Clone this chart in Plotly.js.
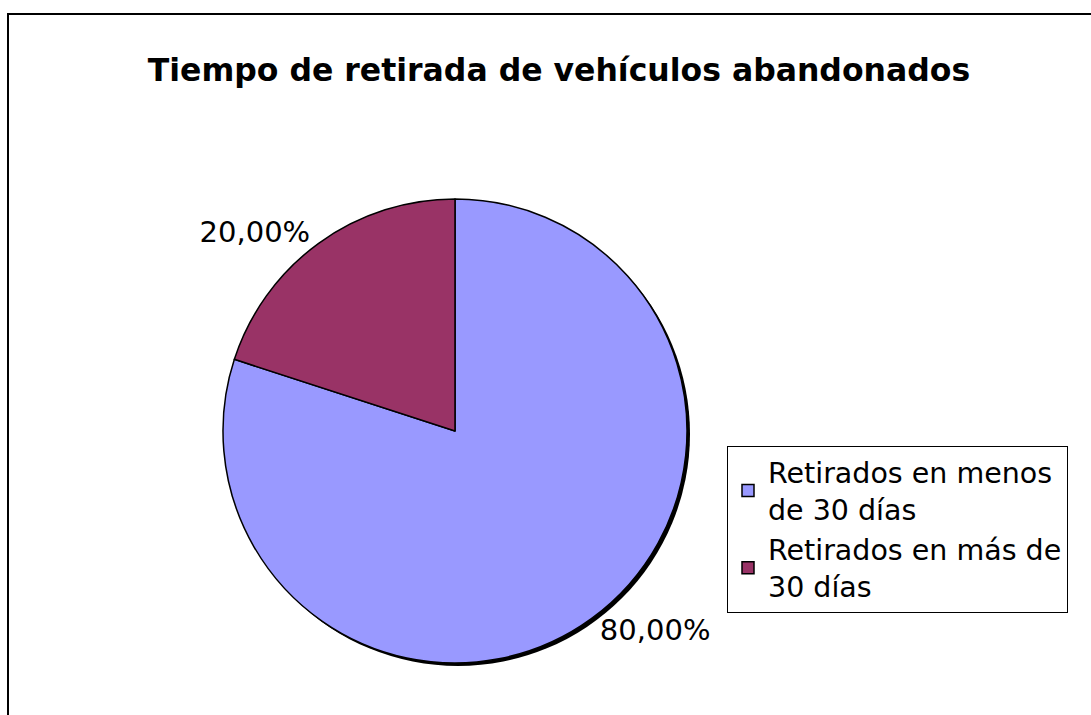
<!DOCTYPE html>
<html>
<head>
<meta charset="utf-8">
<script src="https://cdn.plot.ly/plotly-3.0.1.min.js"></script>
<style>
html,body{margin:0;padding:0;background:#fff;}
#chart{width:1091px;height:715px;}
</style>
</head>
<body>
<div id="chart"></div>
<script>
const categories = ["Retirados en menos<br>de 30 días", "Retirados en más de<br>30 días"];
const values = [80, 20];
const colors = ["#9999FF", "#993366"];
const chartTitle = "Tiempo de retirada de vehículos abandonados";

const W = 1091, H = 715;
const cx = 455, cy = 431, r = 232;
const sh = 3;
function dom(x0, y0) {
  return {
    x: [(x0 - r) / W, (x0 + r) / W],
    y: [1 - (y0 + r) / H, 1 - (y0 - r) / H]
  };
}
const total = values.reduce((a, b) => a + b, 0);

const shadow = {
  type: "pie",
  values: [total],
  labels: ["sombra"],
  marker: {colors: ["#000000"], line: {width: 0}},
  textinfo: "none",
  hoverinfo: "skip",
  showlegend: false,
  sort: false,
  domain: dom(cx + sh, cy + sh)
};

const main = {
  type: "pie",
  values: values,
  labels: categories,
  sort: false,
  direction: "clockwise",
  rotation: 0,
  marker: {colors: colors, line: {color: "#000000", width: 1.5}},
  texttemplate: "%{percent:.2%}",
  textposition: "outside",
  outsidetextfont: {family: "DejaVu Sans, Verdana, sans-serif", size: 29, color: "#000"},
  domain: dom(cx, cy),
  hoverinfo: "label+percent"
};

const layout = {
  width: W, height: H,
  margin: {l: 0, r: 0, t: 0, b: 0},
  paper_bgcolor: "#ffffff",
  separators: ",.",
  title: {
    text: "<b>" + chartTitle + "</b>",
    font: {family: "DejaVu Sans, Verdana, sans-serif", size: 31.5, color: "#000"},
    x: 559 / W, xanchor: "center",
    y: 1 - 70 / H, yanchor: "middle"
  },
  legend: {
    x: 727 / W, xanchor: "left",
    y: 1 - 446 / H, yanchor: "top",
    bordercolor: "#000", borderwidth: 1,
    bgcolor: "#fff",
    font: {family: "DejaVu Sans, Verdana, sans-serif", size: 28.5, color: "#000"},
    tracegroupgap: 0
  },
  shapes: [{
    type: "rect", xref: "paper", yref: "paper", layer: "below",
    x0: 8 / W, x1: 1.05, y0: -0.05, y1: 1 - 14 / H,
    line: {color: "#000", width: 2}
  }],
  showlegend: true
};

Plotly.newPlot("chart", [shadow, main], layout, {displayModeBar: false, staticPlot: true});
</script>
</body>
</html>
